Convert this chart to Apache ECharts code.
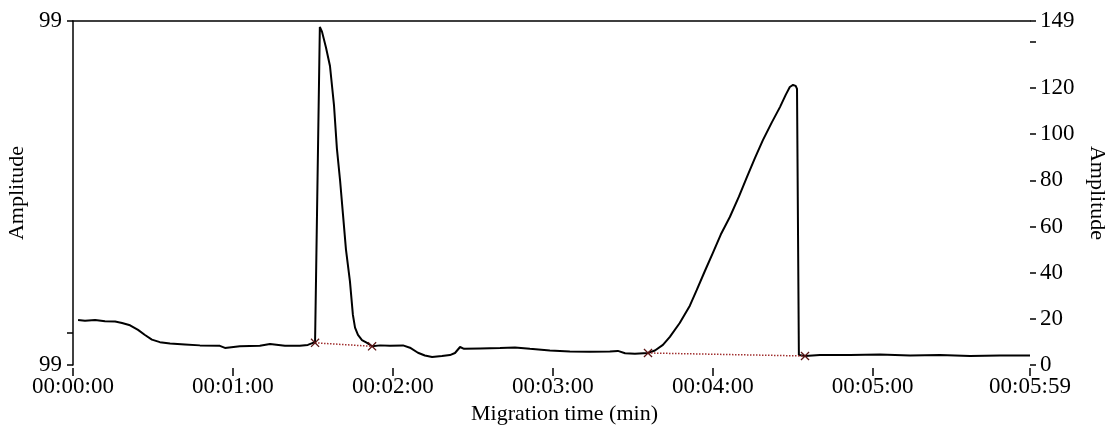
<!DOCTYPE html>
<html>
<head>
<meta charset="utf-8">
<style>
  html, body { margin: 0; padding: 0; background: #fff; }
  #chart { width: 1109px; height: 425px; }
</style>
<script src="https://cdn.jsdelivr.net/npm/echarts@6/dist/echarts.min.js"></script>
</head>
<body>
<div id="chart"></div>
<script>
// migration time in seconds, amplitude read against the right axis
const timeSec = [1.9, 4.5, 8.3, 12.0, 15.8, 18.4, 21.4, 24.4, 27.0, 29.6, 32.6, 36.4, 42.0, 47.6, 55.1, 57.0, 62.6, 70.1, 73.9, 79.5, 85.1, 88.1, 90.0, 90.8, 91.2,
  92.6, 93.4, 94.9, 96.4, 97.9, 99.0, 100.2, 101.3, 102.4, 103.9, 105.0, 105.8, 106.9, 108.4, 110.3, 112.2,
  115.2, 118.9, 123.8, 126.4, 129.4, 132.0, 134.7, 138.4, 141.4, 143.3, 145.2, 146.7, 152.7, 160.2, 165.8, 171.4, 178.9, 186.4, 193.9, 201.4, 204.4, 207.1, 210.8, 215.7,
  218.3, 221.3, 223.9, 227.6, 231.4, 234.0, 237.0, 240.0, 243.0, 246.4, 249.8, 252.8, 255.8, 258.8, 262.2, 265.2, 267.4, 268.9, 270.1, 271.1, 271.6, 272.3, 274.6,
  280.2, 291.5, 302.7, 314.0, 325.2, 336.5, 347.7, 359.0];
const amplitude = [19.5, 19.2, 19.5, 19.0, 18.8, 18.2, 17.2, 15.2, 13.0, 11.0, 9.9, 9.3, 8.9, 8.5, 8.3, 7.4, 8.1, 8.3, 9.1, 8.3, 8.3, 8.7, 9.6, 9.6, 9.6,
  146.4, 144.4, 137.5, 129.5, 112.6, 93.7, 79.8, 64.9, 50, 36.1, 21.7, 16.2, 13, 10.8, 9.6, 8.1,
  8.5, 8.3, 8.5, 7.5, 5.3, 4.1, 3.5, 3.9, 4.3, 5.2, 7.8, 7.0, 7.2, 7.4, 7.6, 7.0, 6.3, 5.9, 5.7, 5.9, 6.1, 5.1, 4.9, 5.2,
  6.3, 8.7, 12.2, 18.2, 25.7, 32.5, 40.6, 48.5, 56.5, 64.1, 72.9, 81.4, 89.6, 97.4, 105.2, 111.7, 117.1, 120.4, 121.3, 120.9, 119.6, 4.3, 3.9,
  4.3, 4.3, 4.5, 4.1, 4.3, 3.9, 4.1, 4.1];

// peak baselines (start / end markers)
const baseTime1 = [90.8, 112.2];
const baseAmp1 = [9.6, 8.1];
const baseTime2 = [215.7, 274.6];
const baseAmp2 = [5.2, 3.9];

const xTicks = [0, 60, 120, 180, 240, 300, 359];
const rightTicks = [0, 20, 40, 60, 80, 100, 120, 140, 149];
const rightLabels = [0, 20, 40, 60, 80, 100, 120, 149];
const leftTicks = [0, 13.9, 149];
const leftLabels = [0, 149];

const pad = (n) => String(n).padStart(2, '0');
const hms = (s) => `${pad(Math.floor(s / 3600))}:${pad(Math.floor(s / 60) % 60)}:${pad(Math.round(s) % 60)}`;
const zip = (a, b) => a.map((v, i) => [v, b[i]]);

const font = 'Liberation Serif';
const crossSymbol = 'path://M0,1L1,0L5,4L9,0L10,1L6,5L10,9L9,10L5,6L1,10L0,9L4,5Z';
const tickLine = { color: '#000', width: 1.5 };

const chart = echarts.init(document.getElementById('chart'));
const option = {
  animation: false,
  backgroundColor: '#fff',
  textStyle: { fontFamily: font, color: '#000' },
  grid: { left: 73, right: 79, top: 21, bottom: 60, outerBoundsMode: 'none', containLabel: false },
  xAxis: [
    {
      type: 'value',
      min: 0,
      max: 359,
      position: 'bottom',
      offset: 3,
      name: 'Migration time (min)',
      nameLocation: 'middle',
      nameGap: 35,
      nameTextStyle: { fontFamily: font, fontSize: 22, color: '#000', padding: [0, 0, 0, 26] },
      axisLine: { show: false, onZero: false },
      axisTick: { show: true, length: 8, customValues: xTicks, lineStyle: tickLine },
      axisLabel: { customValues: xTicks, formatter: (v) => hms(v), fontFamily: font, fontSize: 23, color: '#000', margin: 7 },
      splitLine: { show: false },
    },
    {
      type: 'value',
      min: 0,
      max: 359,
      position: 'top',
      axisLine: { show: true, onZero: false, lineStyle: tickLine },
      axisTick: { show: false },
      axisLabel: { show: false },
      splitLine: { show: false },
    },
  ],
  yAxis: [
    {
      type: 'value',
      min: 0,
      max: 149,
      position: 'left',
      name: 'Amplitude',
      nameLocation: 'middle',
      nameGap: 45,
      nameTextStyle: { fontFamily: font, fontSize: 22, color: '#000' },
      axisLine: { show: true, onZero: false, lineStyle: tickLine },
      axisTick: { show: true, length: 6, customValues: leftTicks, lineStyle: tickLine },
      axisLabel: { customValues: leftLabels, formatter: () => '99', fontFamily: font, fontSize: 23, color: '#000', margin: 11 },
      splitLine: { show: false },
    },
    {
      type: 'value',
      min: 0,
      max: 149,
      position: 'right',
      name: 'Amplitude',
      nameLocation: 'middle',
      nameRotate: -90,
      nameGap: 55,
      nameTextStyle: { fontFamily: font, fontSize: 22, color: '#000' },
      axisLine: { show: false, onZero: false },
      axisTick: { show: true, length: 6, customValues: rightTicks, lineStyle: tickLine },
      axisLabel: { customValues: rightLabels, fontFamily: font, fontSize: 23, color: '#000', margin: 10 },
      splitLine: { show: false },
    },
  ],
  series: [
    {
      type: 'line',
      xAxisIndex: 0,
      yAxisIndex: 1,
      data: zip(timeSec, amplitude),
      showSymbol: false,
      lineStyle: { color: '#000', width: 2 },
      z: 3,
    },
    {
      type: 'line',
      xAxisIndex: 0,
      yAxisIndex: 1,
      data: zip(baseTime1, baseAmp1),
      symbol: crossSymbol,
      symbolSize: 9,
      itemStyle: { color: '#5a1414' },
      lineStyle: { color: '#a03030', width: 1.5, type: 'dotted' },
      z: 4,
    },
    {
      type: 'line',
      xAxisIndex: 0,
      yAxisIndex: 1,
      data: zip(baseTime2, baseAmp2),
      symbol: crossSymbol,
      symbolSize: 9,
      itemStyle: { color: '#5a1414' },
      lineStyle: { color: '#a03030', width: 1.5, type: 'dotted' },
      z: 4,
    },
  ],
};
chart.setOption(option);
</script>
</body>
</html>
